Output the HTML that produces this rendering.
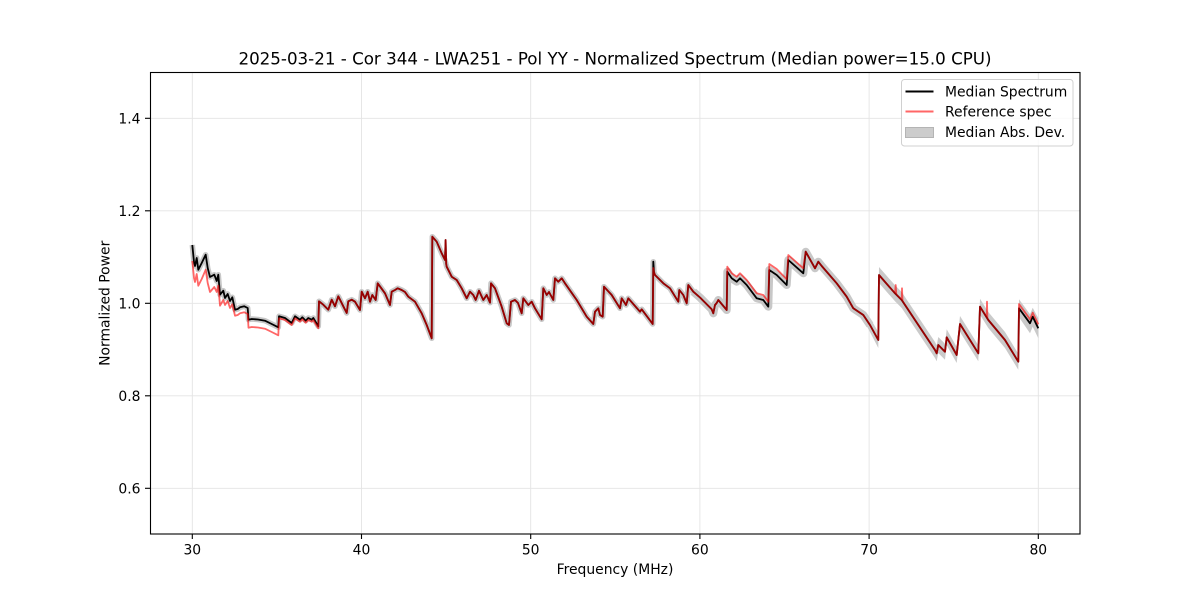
<!DOCTYPE html>
<html><head><meta charset="utf-8"><style>
html,body{margin:0;padding:0;background:#fff;}
svg{display:block;}
text{font-family:"DejaVu Sans","Liberation Sans",sans-serif;fill:#000;}
</style></head><body>
<svg width="1200" height="600" viewBox="0 0 1200 600" xmlns="http://www.w3.org/2000/svg">
<rect x="0" y="0" width="1200" height="600" fill="#fff"/>
<!-- grid -->
<g stroke="#e4e4e4" stroke-width="0.9">
<line x1="192.3" y1="72" x2="192.3" y2="534"/>
<line x1="361.5" y1="72" x2="361.5" y2="534"/>
<line x1="530.7" y1="72" x2="530.7" y2="534"/>
<line x1="699.9" y1="72" x2="699.9" y2="534"/>
<line x1="869.1" y1="72" x2="869.1" y2="534"/>
<line x1="1038.3" y1="72" x2="1038.3" y2="534"/>
<line x1="150" y1="488.3" x2="1080" y2="488.3"/>
<line x1="150" y1="395.8" x2="1080" y2="395.8"/>
<line x1="150" y1="303.3" x2="1080" y2="303.3"/>
<line x1="150" y1="210.8" x2="1080" y2="210.8"/>
<line x1="150" y1="118.3" x2="1080" y2="118.3"/>
</g>
<!-- MAD band -->
<g fill="none" stroke="#c8c8c8" stroke-linejoin="round" stroke-linecap="butt">
<polyline stroke-width="5.5" points="192.3,245 192.8,250 194,262 195,266 196.7,258 198.3,269.7 201.7,263 205.7,254.7 207.7,268 210,277 214.3,274.7 216.7,281 218.3,274.7 220,294.7 223.3,290.7 225,298 227.7,294 230,301 232.3,297.3 235,309.7 237.7,309 240,307.3 244.3,306.3 247.7,308 248.5,319.7 251.7,319 258,319.5 265,320.7 271.7,324 278.3,327.3 279,316.3 285,318 291.7,323 295,316.3 300,319.7 302.3,317.3 305.7,320.7 308.3,318 311.7,319.7 313.3,318 318.3,326.3 319,301.3 323.3,304.7 328.3,309.7 331.7,299.7 335,306.3 338.3,296.3 343.3,306.3 346.7,313 348.3,301.3 351.7,299.7 355,301.7 360,310 361.7,291.7 365,298.3 367.7,291.7 370,301.7 372.3,295 375.7,300 377.7,283.3 385,293.3 390,305 391.7,291.7 395,290 397.7,288.3 401.7,290 405,292 408.3,296.7 415,301.7 421.7,313.3 426.7,325 431.7,338.3 432.3,236.7 436.7,241.7 441.7,253.3 445,260 446.7,266.7 451.7,276.7 456.7,280 461.7,288.3 466.7,298.3 470,291.7 473.3,295 475.7,300 479,290.7 483.3,300 486.7,295 490,302.7 491,283.3 495,288.3 501.7,306.7 506.7,323.3 509,325 511,301.7 515,300 518,303 521.7,313.3 523.3,298.3 528.3,305 531.7,301.7 535,308.3 541.7,319.3 543.3,288.3 546.7,295 549,292 553.3,300 555,278.3 558.3,281.7 561.7,278.3 565,283.3 576.7,300 586.7,316.7 593.3,324 595,311.7 598.3,308.3 600,315 602.7,316.7 604,286.7 611.7,295 620,308.3 621.7,298.3 626,305 628.3,298.3 640,311.7 641.7,309.3 652.7,324 653.3,261.7 654,272 655,275 663.3,283.3 670,288.3 678.3,301.7 679.3,290 683.3,295 686.7,303.3 688.3,285 693.3,291.7 700,297.5"/>
<polyline stroke-width="8" points="693.3,291.7 700,297.5 711.7,309.3 713.3,313.3 715,305 716.7,303 718.3,300 726.7,310 727.3,271.7 731.7,278.3 736.7,281.7 740,278.3 746.7,285 756.7,298.3 763.3,300 768.3,306.7 769.3,270 776.7,275 786.7,285 788.3,260 803.3,273.3 805.7,251.7 815,268.3 818.3,261.7 821.7,266 836.7,283.3 846.7,296.7 853.3,308.3 863.3,315 870,325"/>
</g>
<polygon fill="#cacaca" points="863.3,310 870,318 878.3,332 879,267 895,285.3 901.7,292 915,312 935,342 936.7,345.3 938.3,337 945,343.7 946.7,329.3 956.7,347 960,316 978.3,345.3 980,298.7 988.3,312 1005,332 1018.3,353.7 1019,299.3 1030,314.3 1032.7,307.7 1038.3,318.3 1038.3,338.3 1032.7,326.7 1030,333.3 1019,317.3 1018.3,369.7 1005,348 988.3,328 980,314.7 978.3,361.3 960,332 956.7,363 946.7,345.3 945,359.7 938.3,353 936.7,361.3 935,358 915,328 901.7,308 895,301.3 879,283 878.3,348 870,332 863.3,320"/>
<!-- median spectrum -->
<polyline fill="none" stroke="#000" stroke-width="1.8" stroke-linejoin="round" points="192.3,245 192.8,250 194,262 195,266 196.7,258 198.3,269.7 201.7,263 205.7,254.7 207.7,268 210,277 214.3,274.7 216.7,281 218.3,274.7 220,294.7 223.3,290.7 225,298 227.7,294 230,301 232.3,297.3 235,309.7 237.7,309 240,307.3 244.3,306.3 247.7,308 248.5,319.7 251.7,319 258,319.5 265,320.7 271.7,324 278.3,327.3 279,316.3 285,318 291.7,323 295,316.3 300,319.7 302.3,317.3 305.7,320.7 308.3,318 311.7,319.7 313.3,318 318.3,326.3 319,301.3 323.3,304.7 328.3,309.7 331.7,299.7 335,306.3 338.3,296.3 343.3,306.3 346.7,313 348.3,301.3 351.7,299.7 355,301.7 360,310 361.7,291.7 365,298.3 367.7,291.7 370,301.7 372.3,295 375.7,300 377.7,283.3 385,293.3 390,305 391.7,291.7 395,290 397.7,288.3 401.7,290 405,292 408.3,296.7 415,301.7 421.7,313.3 426.7,325 431.7,338.3 432.3,236.7 436.7,241.7 441.7,253.3 445,260 445.6,240 446.2,264 446.7,266.7 451.7,276.7 456.7,280 461.7,288.3 466.7,298.3 470,291.7 473.3,295 475.7,300 479,290.7 483.3,300 486.7,295 490,302.7 491,283.3 495,288.3 501.7,306.7 506.7,323.3 509,325 511,301.7 515,300 518,303 521.7,313.3 523.3,298.3 528.3,305 531.7,301.7 535,308.3 541.7,319.3 543.3,288.3 546.7,295 549,292 553.3,300 555,278.3 558.3,281.7 561.7,278.3 565,283.3 576.7,300 586.7,316.7 593.3,324 595,311.7 598.3,308.3 600,315 602.7,316.7 604,286.7 611.7,295 620,308.3 621.7,298.3 626,305 628.3,298.3 640,311.7 641.7,309.3 652.7,324 653.3,261.7 654,272 655,275 663.3,283.3 670,288.3 678.3,301.7 679.3,290 683.3,295 686.7,303.3 688.3,285 693.3,291.7 700,297.5 711.7,309.3 713.3,313.3 715,305 716.7,303 718.3,300 726.7,310 727.3,271.7 731.7,278.3 736.7,281.7 740,278.3 746.7,285 756.7,298.3 763.3,300 768.3,306.7 769.3,270 776.7,275 786.7,285 788.3,260 803.3,273.3 805.7,251.7 815,268.3 818.3,261.7 821.7,266 836.7,283.3 846.7,296.7 853.3,308.3 863.3,315 870,325 878.3,340 879,275 895,293.3 901.7,300 915,320 935,350 936.7,353.3 938.3,345 945,351.7 946.7,337.3 956.7,355 960,324 978.3,353.3 980,306.7 988.3,320 1005,340 1018.3,361.7 1019,308.3 1030,323.3 1032.7,316.7 1038.3,328.3"/>
<!-- reference spec -->
<polyline fill="none" stroke="#ff0000" stroke-opacity="0.6" stroke-width="1.8" stroke-linejoin="round" points="192.3,261 192.8,266 194,278 195,282 196.7,274 198.3,285.7 201.7,279 205.7,269.7 207.7,283 210,292 214.3,287 216.7,292 218.3,285.7 220,305.7 223.3,300 225,305 227.7,301 230,308 232.3,304.3 235,315.7 237.7,315 240,313.3 244.3,312.3 247.7,314 248.5,327.7 251.7,327 258,327.5 265,328.7 271.7,332 278.3,335.3 279,318.3 285,320 291.7,325 295,318.3 300,321.7 302.3,319.3 305.7,322.7 308.3,320 311.7,321.7 313.3,320 318.3,328.3 319,301.3 323.3,304.7 328.3,309.7 331.7,299.7 335,306.3 338.3,296.3 343.3,306.3 346.7,313 348.3,301.3 351.7,299.7 355,301.7 360,310 361.7,291.7 365,298.3 367.7,291.7 370,301.7 372.3,295 375.7,300 377.7,283.3 385,293.3 390,305 391.7,291.7 395,290 397.7,288.3 401.7,290 405,292 408.3,296.7 415,301.7 421.7,313.3 426.7,325 431.7,338.3 432.3,236.7 436.7,241.7 441.7,253.3 445,260 445.6,240 446.2,264 446.7,266.7 451.7,276.7 456.7,280 461.7,288.3 466.7,298.3 470,291.7 473.3,295 475.7,300 479,290.7 483.3,300 486.7,295 490,302.7 491,283.3 495,288.3 501.7,306.7 506.7,323.3 509,325 511,301.7 515,300 518,303 521.7,313.3 523.3,298.3 528.3,305 531.7,301.7 535,308.3 541.7,319.3 543.3,288.3 546.7,295 549,292 553.3,300 555,278.3 558.3,281.7 561.7,278.3 565,283.3 576.7,300 586.7,316.7 593.3,324 595,311.7 598.3,308.3 600,315 602.7,316.7 604,286.7 611.7,295 620,308.3 621.7,298.3 626,305 628.3,298.3 640,311.7 641.7,309.3 652.7,324 653.3,268 654,272 655,275 663.3,283.3 670,288.3 678.3,301.7 679.3,290 683.3,295 686.7,303.3 688.3,285 693.3,291.7 700,297.5 711.7,309.3 713.3,313.3 715,305 716.7,303 718.3,300 726.7,310 727.3,266.7 731.7,273.3 736.7,276.7 740,273.3 746.7,280 756.7,293.3 763.3,295 768.3,301.7 769.3,264 776.7,269 786.7,279.3 788.3,255 803.3,268.3 805.7,251.7 815,268.3 818.3,261.7 821.7,266 836.7,283.3 846.7,296.7 853.3,308.3 863.3,315 870,325 878.3,340 879,275 895,293.3 895.7,285 896.3,294.5 901.7,300 902,288.3 902.5,301 915,320 935,350 936.7,353.3 938.3,345 945,351.7 946.7,337.3 956.7,355 960,324 978.3,353.3 980,306.7 986.7,317.4 987,301.7 987.4,318.6 988.3,320 1005,340 1018.3,361.7 1019,304 1030,319.3 1032.7,312.7 1038.3,324.3"/>
<!-- axes frame -->
<rect x="150.5" y="72.5" width="929.5" height="461.5" fill="none" stroke="#000" stroke-width="1.1"/>
<!-- ticks -->
<g stroke="#000" stroke-width="1.1">
<line x1="192.3" y1="534" x2="192.3" y2="539"/>
<line x1="361.5" y1="534" x2="361.5" y2="539"/>
<line x1="530.7" y1="534" x2="530.7" y2="539"/>
<line x1="699.9" y1="534" x2="699.9" y2="539"/>
<line x1="869.1" y1="534" x2="869.1" y2="539"/>
<line x1="1038.3" y1="534" x2="1038.3" y2="539"/>
<line x1="145" y1="488.3" x2="150" y2="488.3"/>
<line x1="145" y1="395.8" x2="150" y2="395.8"/>
<line x1="145" y1="303.3" x2="150" y2="303.3"/>
<line x1="145" y1="210.8" x2="150" y2="210.8"/>
<line x1="145" y1="118.3" x2="150" y2="118.3"/>
</g>
<g font-size="13.9" text-anchor="middle">
<text x="192.3" y="554.5">30</text>
<text x="361.5" y="554.5">40</text>
<text x="530.7" y="554.5">50</text>
<text x="699.9" y="554.5">60</text>
<text x="869.1" y="554.5">70</text>
<text x="1038.3" y="554.5">80</text>
</g>
<g font-size="13.9" text-anchor="end">
<text x="140.5" y="493.5">0.6</text>
<text x="140.5" y="401">0.8</text>
<text x="140.5" y="308.5">1.0</text>
<text x="140.5" y="216">1.2</text>
<text x="140.5" y="123.5">1.4</text>
</g>
<text x="615" y="574" font-size="13.9" text-anchor="middle">Frequency (MHz)</text>
<text x="0" y="0" font-size="13.9" text-anchor="middle" transform="translate(109.5,303.3) rotate(-90)">Normalized Power</text>
<text x="615" y="64.5" font-size="16.7" text-anchor="middle">2025-03-21 - Cor 344 - LWA251 - Pol YY - Normalized Spectrum (Median power=15.0 CPU)</text>
<!-- legend -->
<rect x="901.5" y="79.5" width="171.5" height="66.5" rx="3" ry="3" fill="#fff" fill-opacity="0.8" stroke="#d0d0d0" stroke-width="1"/>
<line x1="905.5" y1="91.5" x2="933.5" y2="91.5" stroke="#000" stroke-width="2"/>
<line x1="905.5" y1="111.5" x2="933.5" y2="111.5" stroke="#ff0000" stroke-opacity="0.6" stroke-width="2"/>
<rect x="905.5" y="127.5" width="28" height="10" fill="#cccccc" stroke="#b4b4b4" stroke-width="1"/>
<g font-size="13.9">
<text x="945" y="96.5">Median Spectrum</text>
<text x="945" y="116.5">Reference spec</text>
<text x="945" y="137">Median Abs. Dev.</text>
</g>
</svg>
</body></html>
